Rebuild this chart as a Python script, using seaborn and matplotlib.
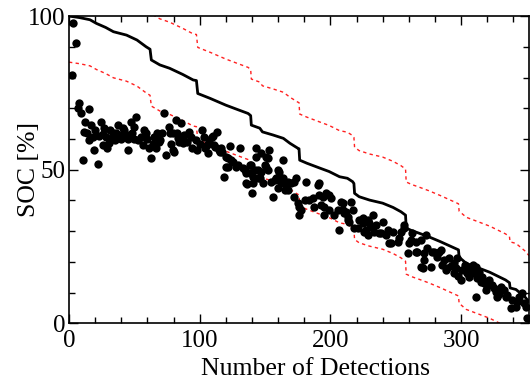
import matplotlib
matplotlib.use("Agg")
import matplotlib.pyplot as plt
from matplotlib.ticker import MultipleLocator
import pandas as pd
import seaborn as sns

# Model SOC trajectory (stepwise decrease with detections)
model_detections = [0, 8, 16, 21, 28, 34, 44, 52, 59, 62, 63, 69.5, 77, 87, 95, 97.5,
                    98.5, 108, 120, 130, 137, 139, 139.5, 146, 148, 156, 164, 169, 175,
                    176, 176.5, 182, 192, 199, 207, 213, 217, 218, 218.5, 222, 230, 240,
                    248, 254, 257.5, 258, 262, 268, 275, 284, 298, 298.5, 304, 314, 322,
                    334, 337, 337.5, 342, 349, 352]
model_soc = [100, 99.5, 98.8, 97.6, 96.3, 94.9, 93.8, 92.2, 90.0, 89.2, 85.7, 84.1, 83.0,
             81.0, 79.2, 79.0, 74.8, 73.2, 71.0, 69.4, 68.3, 67.6, 64.5, 63.5, 62.3, 61.3,
             60.2, 58.6, 57.0, 56.8, 53.1, 52.1, 50.5, 49.4, 47.7, 47.2, 46.1, 45.5, 42.3,
             41.2, 40.1, 39.1, 37.7, 36.3, 35.2, 31.0, 30.2, 29.3, 28.2, 26.6, 23.9, 21.5,
             19.5, 17.9, 16.6, 14.1, 13.2, 11.5, 11.0, 8.5, 7.0]
# Tolerance band around the model
upper_soc = [115, 114.5, 113.8, 112.6, 111.3, 109.9, 108.8, 107.2, 105.0, 104.2, 100.7,
             99.1, 98.0, 96.0, 94.2, 94.0, 89.8, 88.2, 86.0, 84.4, 83.3, 82.6, 79.5, 78.5,
             77.3, 76.3, 75.2, 73.6, 72.0, 71.8, 68.1, 67.1, 65.5, 64.4, 62.7, 62.2, 61.1,
             60.5, 57.3, 56.2, 55.1, 54.1, 52.7, 51.3, 50.2, 46.0, 45.2, 44.3, 43.2, 41.6,
             38.9, 36.5, 34.5, 32.9, 31.6, 29.1, 28.2, 26.5, 26.0, 23.5, 22.0]
lower_soc = [85, 84.5, 83.8, 82.6, 81.3, 79.9, 78.8, 77.2, 75.0, 74.2, 70.7, 69.1, 68.0,
             66.0, 64.2, 64.0, 59.8, 58.2, 56.0, 54.4, 53.3, 52.6, 49.5, 48.5, 47.3, 46.3,
             45.2, 43.6, 42.0, 41.8, 38.1, 37.1, 35.5, 34.4, 32.7, 32.2, 31.1, 30.5, 27.3,
             26.2, 25.1, 24.1, 22.7, 21.3, 20.2, 16.0, 15.2, 14.3, 13.2, 11.6, 8.9, 6.5,
             4.5, 2.9, 1.6, -0.9, -1.8, -3.5, -4.0, -6.5, -8.0]

# Measured SOC at each detection
measured_detections = [
    2.8, 5.3, 2.3, 7.9, 9.2, 15.0, 6.9, 11.7, 16.8, 15.5,
    19.3, 10.4, 21.9, 24.4, 27.0, 28.2, 25.7, 30.8, 33.3, 37.2,
    38.4, 42.2, 44.8, 47.3, 51.1, 49.9, 46.0, 55.0, 58.8, 56.3,
    61.3, 62.6, 65.1, 66.4, 68.9, 72.7, 74.0, 71.5, 76.6, 79.2,
    80.4, 81.7, 85.5, 84.2, 88.0, 91.8, 90.6, 94.4, 96.9, 98.2,
    102.0, 103.3, 105.9, 109.7, 113.5, 114.7, 117.3, 118.5, 12.0, 14.0,
    18.0, 20.0, 23.0, 26.0, 29.0, 31.0, 32.0, 35.0, 36.0, 40.0,
    41.0, 43.0, 45.0, 48.0, 50.0, 53.0, 57.0, 60.0, 64.0, 67.0,
    70.0, 78.0, 83.0, 87.0, 93.0, 100.0, 104.0, 107.0, 111.0, 110.2,
    77.1, 79.6, 83.4, 87.3, 106.3, 116.6, 120.4, 121.6, 124.2, 128.0,
    130.5, 134.4, 138.2, 136.1, 140.2, 143.3, 143.3, 144.5, 145.8, 111.5,
    115.3, 122.9, 121.6, 125.4, 129.2, 120.4, 133.0, 135.6, 138.2, 147.1,
    153.4, 150.9, 142.0, 150.9, 163.6, 135.6, 140.7, 144.5, 148.3, 155.9,
    157.3, 161.0, 159.8, 163.6, 166.2, 170.0, 172.5, 164.9, 172.5, 175.0,
    181.5, 177.6, 176.3, 183.9, 186.5, 187.8, 191.6, 192.9, 196.7, 200.5,
    199.2, 195.4, 203.0, 208.2, 209.4, 213.2, 215.8, 217.0, 206.9, 214.5,
    222.1, 224.7, 228.5, 220.8, 226.0, 228.5, 231.1, 152.1, 139.5, 147.1,
    149.6, 152.1, 159.8, 140.7, 154.7, 158.5, 162.4, 167.4, 173.8, 167.4,
    180.2, 190.3, 194.1, 199.2, 195.4, 176.3, 205.6, 210.7, 213.2, 209.4,
    212.0, 218.3, 224.7, 227.2, 232.3, 234.9, 233.6, 239.9, 238.7, 242.5,
    247.6, 246.3, 251.4, 254.0, 256.5, 252.7, 260.3, 259.0, 261.6, 265.4,
    269.2, 273.0, 266.6, 271.8, 274.3, 271.8, 269.2, 276.9, 279.4, 281.9,
    229.8, 237.4, 243.7, 245.0, 256.5, 262.8, 265.4, 278.1, 270.5, 283.2,
    285.7, 289.5, 290.8, 288.3, 294.7, 297.2, 301.0, 303.6, 304.8, 299.8,
    307.4, 311.2, 309.9, 313.7, 312.4, 316.3, 317.6, 311.2, 318.9, 321.4,
    323.9, 326.4, 327.7, 330.3, 332.8, 335.3, 339.2, 341.8, 337.9, 344.3,
    346.9, 348.1, 349.4, 350.6, 294.7, 191.6, 284.5, 287.0, 292.0, 296.0,
    298.0, 306.0, 315.0, 320.0, 325.0, 329.0, 334.0, 343.0, 303.0, 309.0,
]
measured_soc = [
    97.6, 91.3, 80.8, 71.6, 68.3, 69.7, 70.0, 62.4, 64.5, 59.6,
    56.4, 53.1, 52.0, 65.6, 63.5, 60.7, 58.0, 58.6, 61.8, 64.5,
    61.3, 62.9, 56.4, 65.6, 67.2, 64.0, 61.3, 60.7, 61.8, 58.0,
    57.0, 53.7, 60.7, 57.0, 59.1, 68.3, 54.8, 61.8, 64.0, 61.8,
    55.8, 66.2, 65.1, 59.1, 61.3, 62.3, 59.1, 57.0, 59.6, 56.4,
    62.9, 60.7, 58.0, 60.7, 62.3, 56.4, 55.8, 47.7, 65.5, 62.0,
    60.5, 63.0, 61.0, 61.5, 57.0, 63.0, 60.0, 59.5, 62.0, 60.0,
    63.5, 61.0, 60.0, 62.0, 60.0, 59.5, 63.0, 60.0, 58.5, 62.0,
    59.5, 58.5, 62.0, 60.0, 60.5, 58.5, 57.0, 59.5, 58.0, 61.0,
    62.0, 56.4, 60.2, 58.6, 55.3, 57.0, 54.2, 51.0, 53.1, 51.0,
    57.0, 49.9, 48.8, 45.3, 42.3, 57.0, 54.2, 49.9, 47.2, 57.5,
    55.8, 57.7, 53.7, 52.6, 51.5, 51.0, 50.4, 48.8, 51.5, 55.3,
    56.4, 54.2, 49.9, 51.0, 53.1, 45.6, 45.6, 47.2, 45.6, 41.2,
    46.6, 49.3, 43.9, 47.2, 45.0, 45.6, 46.1, 43.4, 41.2, 39.0,
    46.1, 36.9, 35.2, 40.1, 40.7, 37.9, 45.6, 38.5, 42.3, 40.7,
    36.9, 35.2, 35.2, 39.6, 36.9, 34.7, 39.6, 36.9, 30.4, 33.1,
    33.6, 34.2, 33.6, 30.9, 29.8, 28.7, 31.4, 53.7, 51.5, 49.3,
    51.5, 49.9, 49.9, 47.7, 46.1, 47.2, 45.6, 46.1, 47.2, 43.4,
    40.1, 45.0, 41.2, 41.8, 37.9, 37.9, 36.9, 35.8, 33.6, 39.0,
    36.3, 30.9, 32.5, 30.4, 35.2, 32.0, 29.8, 33.1, 29.3, 28.7,
    29.8, 26.0, 26.6, 29.8, 30.9, 27.7, 26.0, 22.8, 27.1, 26.6,
    27.1, 28.7, 23.3, 22.8, 24.4, 20.6, 18.4, 18.4, 23.3, 21.7,
    32.5, 29.3, 30.4, 26.0, 32.0, 29.3, 23.3, 23.3, 17.9, 23.3,
    19.0, 17.9, 21.2, 17.3, 19.5, 21.2, 17.3, 17.9, 16.3, 14.1,
    17.9, 18.4, 16.3, 16.8, 14.6, 15.2, 13.0, 8.7, 10.8, 14.1,
    12.5, 10.3, 8.7, 11.9, 10.8, 9.2, 7.6, 5.4, 4.9, 8.7,
    9.8, 6.5, 5.4, 1.6, 16.3, 41.8, 23.9, 20.5, 18.5, 18.0,
    15.5, 15.0, 13.5, 12.0, 11.5, 9.5, 8.5, 7.0, 19.0, 19.0,
]

x_ticks = [0, 100, 200, 300]
y_ticks = [0, 50, 100]

sns.set_theme(style="ticks")
plt.rcParams["font.family"] = ["Liberation Serif", "DejaVu Serif"]
plt.rcParams.update({"text.color": "black", "axes.labelcolor": "black",
                     "xtick.color": "black", "ytick.color": "black",
                     "axes.edgecolor": "black"})

model = pd.DataFrame({"n": model_detections, "soc": model_soc,
                      "upper": upper_soc, "lower": lower_soc})
measured = pd.DataFrame({"n": measured_detections, "soc": measured_soc})

fig = plt.figure(figsize=(5.30, 3.85), dpi=100)
ax = fig.add_axes([0.1302, 0.1603, 0.868, 0.798])

band_style = dict(color="#ff2020", linewidth=1.0, linestyle=(0, (2.4, 2.4)),
                  estimator=None, sort=False, ax=ax)
sns.lineplot(data=model, x="n", y="upper", **band_style)
sns.lineplot(data=model, x="n", y="lower", **band_style)
sns.scatterplot(data=measured, x="n", y="soc", color="black", s=36,
                edgecolor="black", linewidth=0, ax=ax, zorder=3)
sns.lineplot(data=model, x="n", y="soc", color="black", linewidth=2.0,
             estimator=None, sort=False, ax=ax, zorder=4)

ax.set_xlim(0, 352)
ax.set_ylim(0, 100)
ax.set_xticks(x_ticks)
ax.set_yticks(y_ticks)
ax.xaxis.set_minor_locator(MultipleLocator(20))
ax.yaxis.set_minor_locator(MultipleLocator(10))
ax.tick_params(which="both", direction="in", top=True, right=True,
               color="black", labelcolor="black", width=1.0)
ax.tick_params(which="major", length=6.5, labelsize=18)
ax.tick_params(axis="x", which="major", pad=5)
ax.tick_params(axis="y", which="major", pad=2.5)
ax.tick_params(which="minor", length=4.3)
for spine in ax.spines.values():
    spine.set_color("black")
    spine.set_linewidth(1.2)

ax.set_xlabel("Number of Detections", fontsize=18.5, color="black")
ax.set_ylabel("SOC [%]", fontsize=18.5, color="black")
ax.xaxis.set_label_coords(0.535, -0.113)
ax.yaxis.set_label_coords(-0.063, 0.5)

fig.savefig("out.png", dpi=100)
